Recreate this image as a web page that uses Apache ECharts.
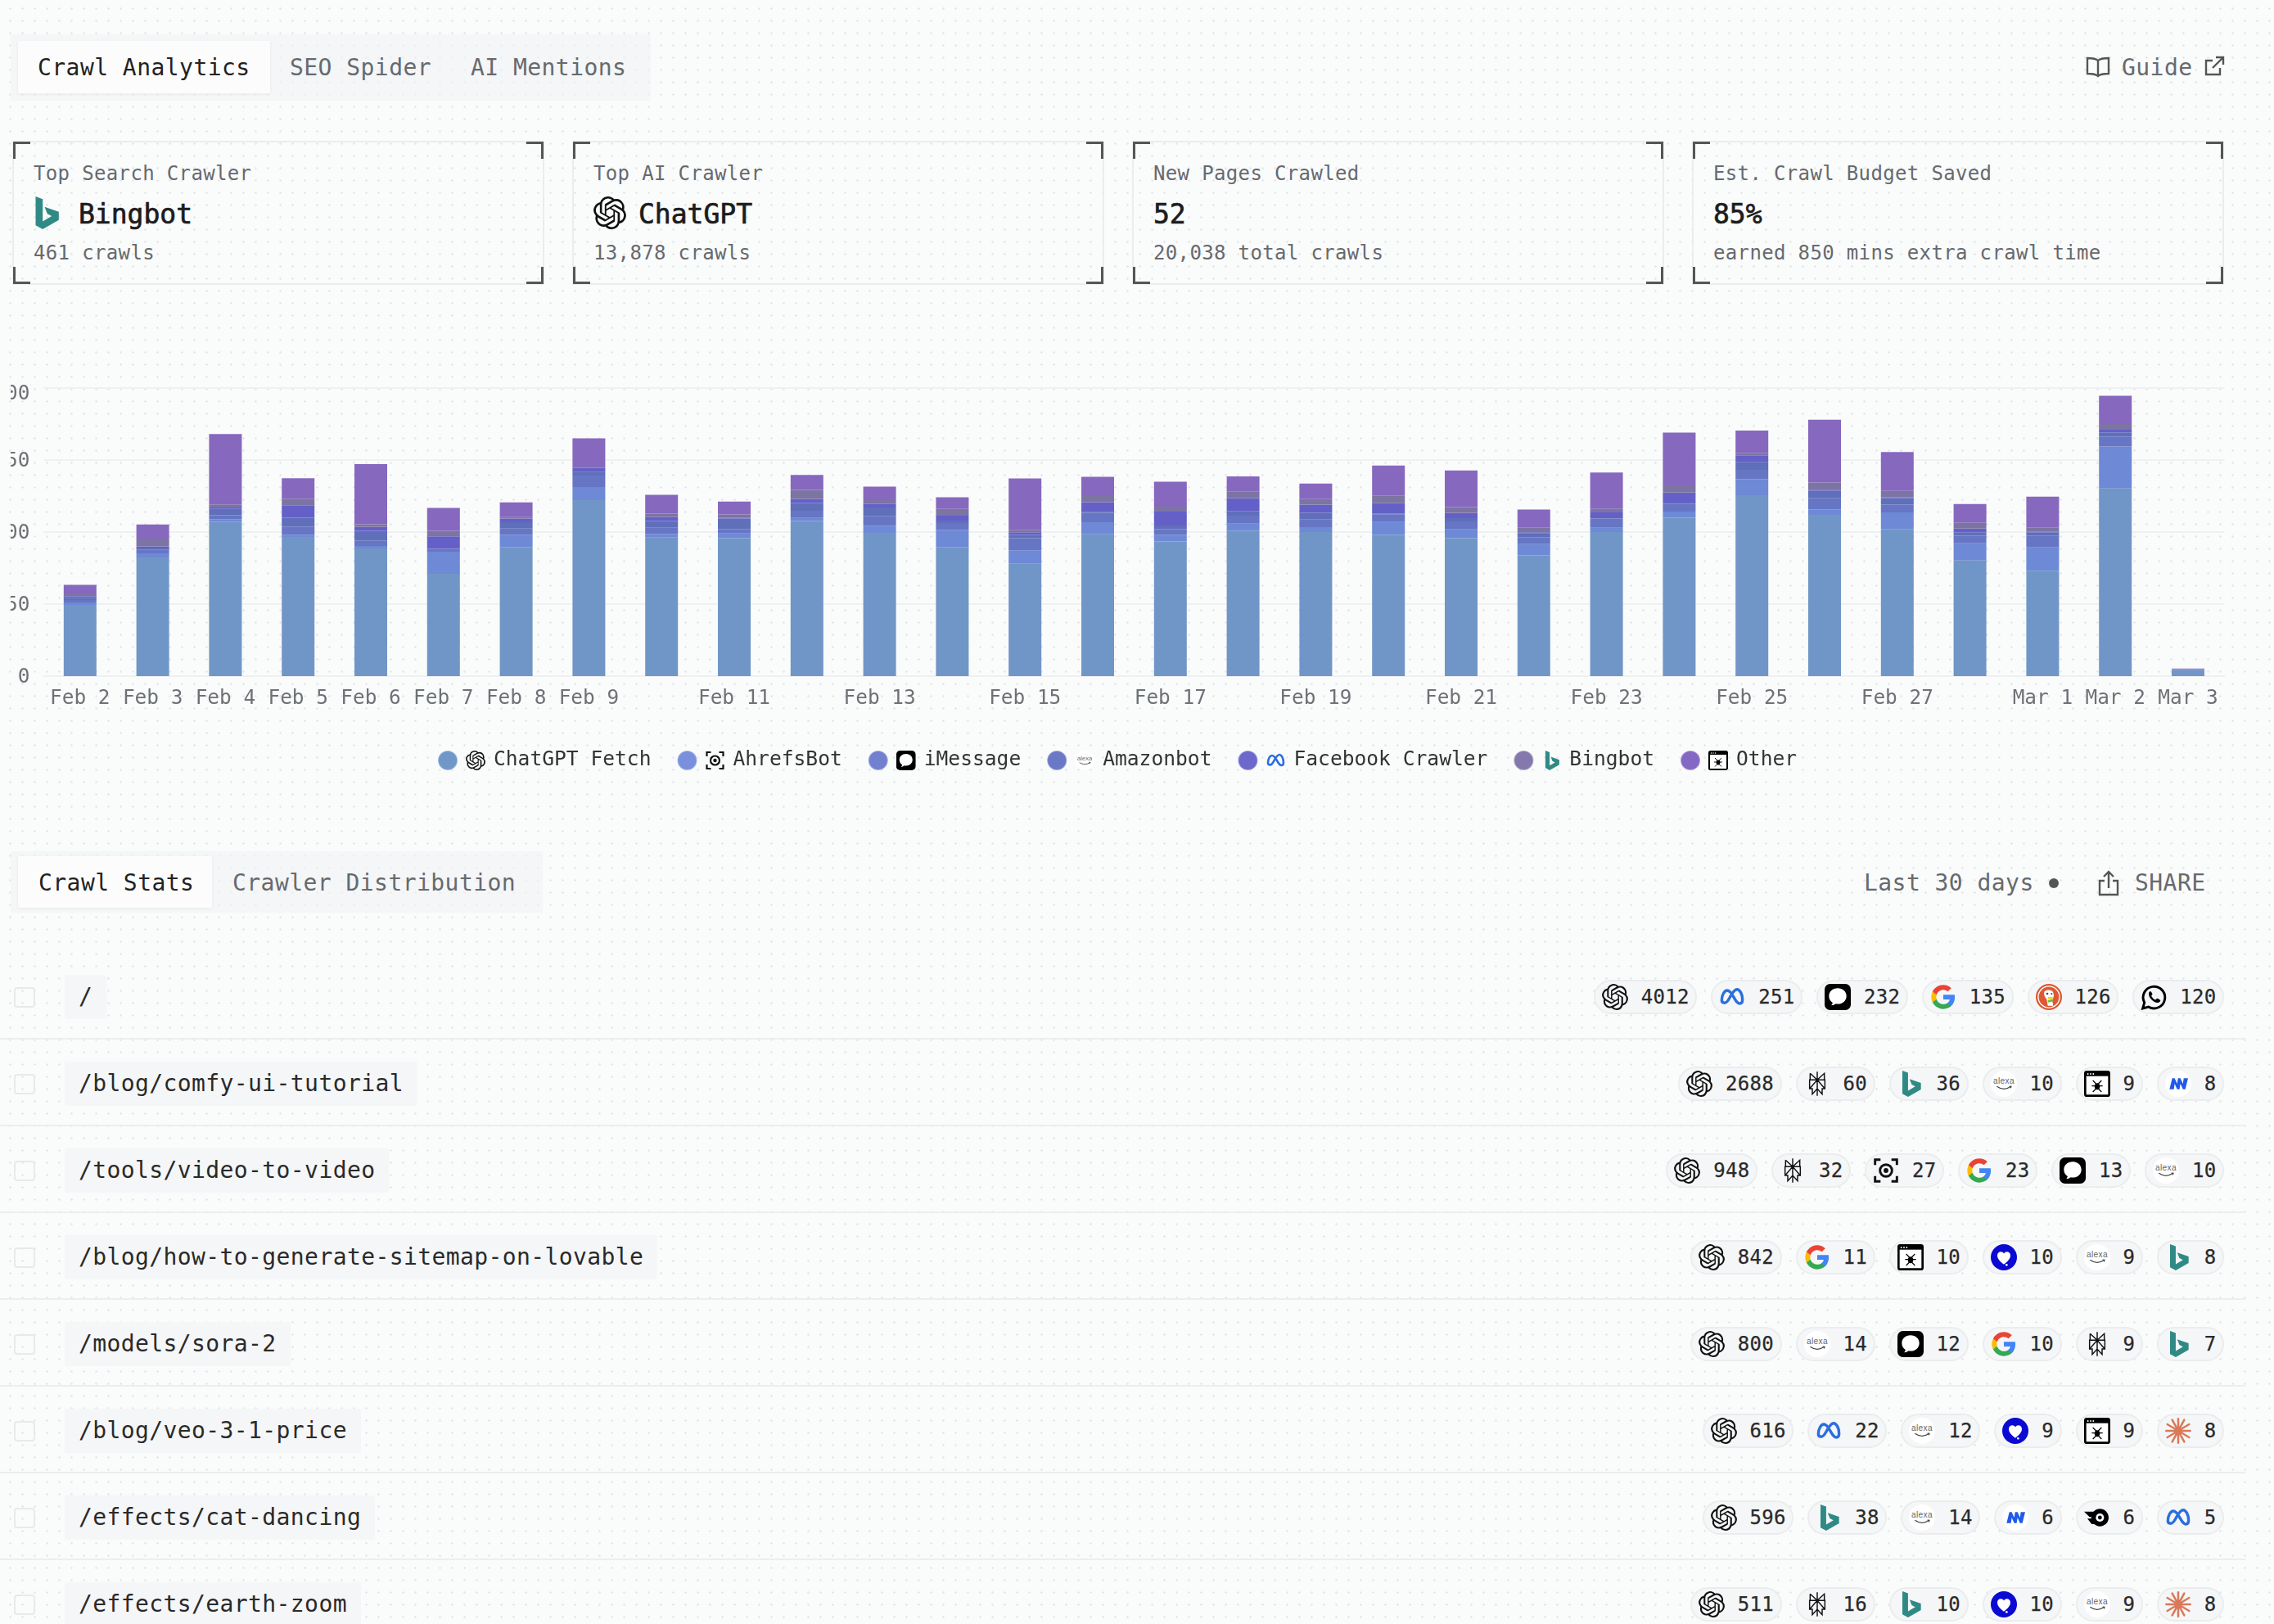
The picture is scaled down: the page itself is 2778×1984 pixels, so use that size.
<!DOCTYPE html>
<html lang="en">
<head>
  <meta charset="UTF-8">
  <title>Crawl Analytics</title>
  <script src="https://cdn.jsdelivr.net/npm/echarts@6/dist/echarts.min.js"></script>
  <style>
    * { box-sizing: border-box; }
    html, body { margin: 0; padding: 0; }
    body {
      position: relative;
      width: 2778px;
      height: 1984px;
      overflow: hidden;
      background-color: #fafbfb;
      background-image: radial-gradient(circle, #e5e7e9 1px, transparent 1.5px);
      background-size: 15px 15px;
      background-position: 5px 3px;
      font-family: "DejaVu Sans Mono", monospace;
      color: #222;
    }
    .abs { position: absolute; white-space: pre; line-height: 1; }
    .tabs { position: absolute; background: rgba(240, 242, 244, .62); }
    .tab-on { position: absolute; background: #fcfcfd; box-shadow: 0 1px 4px rgba(0, 0, 0, .06); border-radius: 2px; }
    .tab { font-size: 28px; letter-spacing: .45px; color: #666a6e; }
    .tab.on { color: #222; }
    .card { position: absolute; top: 172px; width: 650px; height: 176px; border: 2px solid #ebecee; }
    .card i { position: absolute; width: 21px; height: 21px; border: 0 solid #555; }
    .card .tl { left: -1px; top: -1px; border-width: 3px 0 0 3px; }
    .card .tr { right: -1px; top: -1px; border-width: 3px 3px 0 0; }
    .card .bl { left: -1px; bottom: -1px; border-width: 0 0 3px 3px; }
    .card .br { right: -1px; bottom: -1px; border-width: 0 3px 3px 0; }
    .card .lab, .card .sub { position: absolute; left: 24px; font-size: 24px; letter-spacing: .35px; color: #666a6e; white-space: pre; line-height: 1; }
    .card .lab { top: 26px; }
    .card .sub { top: 123px; }
    .card .val { position: absolute; top: 71px; font-size: 33px; -webkit-text-stroke: .7px #1c1c1c; color: #1c1c1c; line-height: 1; }
    .card svg { position: absolute; top: 66px; }
    #main { position: absolute; left: 13px; top: 440px; width: 2740px; height: 540px; }
    .row { position: absolute; left: 0; width: 2743px; height: 106px; border-bottom: 2px solid #ecedee; }
    .check { position: absolute; left: 17px; top: 42px; width: 26px; height: 25px; border: 2px solid #e8e9eb; border-radius: 4px; }
    .path { position: absolute; left: 79px; top: 27px; height: 54px; line-height: 54px; padding: 0 17px; font-size: 28px; letter-spacing: .4px; background: #f5f6f7; border-radius: 2px; white-space: pre; color: #2a2a2a; }
    .pills { position: absolute; right: 26px; top: 33px; display: flex; gap: 17px; }
    .pill { display: flex; align-items: center; height: 42px; padding: 0 7.5px 0 8px; border: 2px solid #ebecee; border-radius: 21px; background: #f5f6f7; font-size: 24px; letter-spacing: .3px; -webkit-text-stroke: .25px #2a2a2a; color: #2a2a2a; }
    .pill svg { margin-right: 16px; }
  </style>
</head>
<body>
<div class="tabs" style="left:13px;top:42px;width:782px;height:81px"></div>
<div class="tab-on" style="left:22px;top:50px;width:308px;height:64px"></div>
<div class="abs tab on" style="left:46px;top:69px">Crawl Analytics</div>
<div class="abs tab" style="left:354px;top:69px">SEO Spider</div>
<div class="abs tab" style="left:575px;top:69px">AI Mentions</div>

<svg class="abs" style="left:2548px;top:68px" width="30" height="28" viewBox="0 0 30 28" fill="none" stroke="#555" stroke-width="2.4"><path d="M15 6C12 3 7 3 2 3v19c5 0 10 0 13 3 3-3 8-3 13-3V3c-5 0-10 0-13 3zM15 6v19"/></svg>
<div class="abs tab" style="left:2592px;top:69px">Guide</div>
<svg class="abs" style="left:2692px;top:68px" width="26" height="26" viewBox="0 0 26 26" fill="none" stroke="#555" stroke-width="2.4"><path d="M20 15v8H3V6h8M15 2h9v9M24 2L11 15"/></svg>

<div id="cards"></div>
<div id="main"></div>

<div class="tabs" style="left:13px;top:1040px;width:650px;height:75px"></div>
<div class="tab-on" style="left:22px;top:1046px;width:237px;height:63px"></div>
<div class="abs tab on" style="left:47px;top:1065px">Crawl Stats</div>
<div class="abs tab" style="left:284px;top:1065px">Crawler Distribution</div>
<div class="abs tab" style="left:2277px;top:1065px">Last 30 days</div>
<div class="abs" style="left:2503px;top:1073px;width:12px;height:12px;border-radius:6px;background:#555"></div>
<svg class="abs" style="left:2562px;top:1063px" width="28" height="32" viewBox="0 0 28 32" fill="none" stroke="#555" stroke-width="2.4"><path d="M9 13H3v17h22V13h-6M14 22V2M8 8l6-6 6 6"/></svg>
<div class="abs tab" style="left:2608px;top:1065px">SHARE</div>

<div id="rows"></div>

<script>
  var monoFont = '"DejaVu Sans Mono", monospace';

  var days = ['Feb 2', 'Feb 3', 'Feb 4', 'Feb 5', 'Feb 6', 'Feb 7', 'Feb 8', 'Feb 9', 'Feb 10', 'Feb 11',
    'Feb 12', 'Feb 13', 'Feb 14', 'Feb 15', 'Feb 16', 'Feb 17', 'Feb 18', 'Feb 19', 'Feb 20', 'Feb 21',
    'Feb 22', 'Feb 23', 'Feb 24', 'Feb 25', 'Feb 26', 'Feb 27', 'Feb 28', 'Mar 1', 'Mar 2', 'Mar 3'];
  var shownDays = ['Feb 2', 'Feb 3', 'Feb 4', 'Feb 5', 'Feb 6', 'Feb 7', 'Feb 8', 'Feb 9', 'Feb 11', 'Feb 13',
    'Feb 15', 'Feb 17', 'Feb 19', 'Feb 21', 'Feb 23', 'Feb 25', 'Feb 27', 'Mar 1', 'Mar 2', 'Mar 3'];

  var chatgptFetch = [247, 412, 536, 483, 443, 355, 448, 611, 481, 479, 538, 497, 448, 390, 492, 467, 505, 500, 490, 479, 419, 500, 550, 628, 560, 511, 401, 366, 651, 20];
  var ahrefsBot = [9, 14, 9, 8, 9, 77, 43, 45, 12, 16, 11, 25, 60, 47, 42, 24, 24, 17, 45, 30, 39, 15, 21, 55, 18, 57, 60, 81, 146, 2];
  var iMessage = [8, 12, 13, 28, 19, 9, 21, 40, 22, 16, 25, 33, 23, 42, 32, 19, 28, 26, 27, 28, 24, 32, 28, 33, 39, 27, 26, 41, 35, 1];
  var amazonbot = [8, 5, 22, 31, 33, 1, 22, 12, 23, 36, 27, 30, 9, 11, 4, 13, 16, 24, 2, 11, 13, 1, 3, 26, 26, 23, 12, 11, 14, 0];
  var facebookCrawler = [6, 7, 5, 43, 14, 43, 13, 14, 14, 2, 14, 12, 17, 9, 34, 48, 45, 28, 36, 19, 4, 20, 35, 24, 4, 2, 13, 2, 9, 1];
  var bingbot = [9, 27, 11, 23, 9, 19, 5, 5, 12, 12, 31, 14, 23, 9, 24, 17, 22, 19, 27, 20, 16, 12, 22, 9, 25, 23, 20, 15, 23, 0];
  var other = [30, 49, 244, 71, 209, 80, 51, 98, 65, 45, 52, 47, 41, 178, 64, 87, 53, 54, 104, 127, 63, 127, 186, 77, 218, 135, 65, 107, 95, 2];

  var seriesNames = ['ChatGPT Fetch', 'AhrefsBot', 'iMessage', 'Amazonbot', 'Facebook Crawler', 'Bingbot', 'Other'];
  var seriesValues = [chatgptFetch, ahrefsBot, iMessage, amazonbot, facebookCrawler, bingbot, other];
  var seriesColors = ['#7096c7', '#6e89d5', '#6676c4', '#5f6fba', '#6460c8', '#7c74a2', '#8668bf'];
  var legendColors = ['#7097c8', '#7a90dc', '#7280d0', '#6a78c6', '#6c68cc', '#8479ac', '#8468c4'];
  var seriesIcons = ['openai', 'ahrefs', 'imessage', 'alexa', 'meta', 'bing', 'spider'];

  var cardLabels = ['Top Search Crawler', 'Top AI Crawler', 'New Pages Crawled', 'Est. Crawl Budget Saved'];
  var cardValues = ['Bingbot', 'ChatGPT', '52', '85%'];
  var cardIcons = ['bing', 'openai', '', ''];
  var cardIconLeft = [19, 24, 0, 0];
  var cardSubs = ['461 crawls', '13,878 crawls', '20,038 total crawls', 'earned 850 mins extra crawl time'];

  var pagePaths = ['/', '/blog/comfy-ui-tutorial', '/tools/video-to-video', '/blog/how-to-generate-sitemap-on-lovable',
    '/models/sora-2', '/blog/veo-3-1-price', '/effects/cat-dancing', '/effects/earth-zoom'];
  var pageCrawlers = [
    ['openai', 'meta', 'imessage', 'google', 'duck', 'whatsapp'],
    ['openai', 'perplexity', 'bing', 'alexa', 'spider', 'mistral'],
    ['openai', 'perplexity', 'ahrefs', 'google', 'imessage', 'alexa'],
    ['openai', 'google', 'spider', 'heart', 'alexa', 'bing'],
    ['openai', 'alexa', 'imessage', 'google', 'perplexity', 'bing'],
    ['openai', 'meta', 'alexa', 'heart', 'spider', 'claude'],
    ['openai', 'bing', 'alexa', 'mistral', 'flame', 'meta'],
    ['openai', 'perplexity', 'bing', 'heart', 'alexa', 'claude']
  ];
  var pageCounts = [
    [4012, 251, 232, 135, 126, 120],
    [2688, 60, 36, 10, 9, 8],
    [948, 32, 27, 23, 13, 10],
    [842, 11, 10, 10, 9, 8],
    [800, 14, 12, 10, 9, 7],
    [616, 22, 12, 9, 9, 8],
    [596, 38, 14, 6, 6, 5],
    [511, 16, 10, 10, 9, 8]
  ];

  // crawler logos, all on a 24 unit box
  var iconParts = {
    openai: '<path fill="#111" d="M22.2819 9.8211a5.9847 5.9847 0 0 0-.5157-4.9108 6.0462 6.0462 0 0 0-6.5098-2.9A6.0651 6.0651 0 0 0 4.9807 4.1818a5.9847 5.9847 0 0 0-3.9977 2.9 6.0462 6.0462 0 0 0 .7427 7.0966 5.98 5.98 0 0 0 .511 4.9107 6.051 6.051 0 0 0 6.5146 2.9001A5.9847 5.9847 0 0 0 13.2599 24a6.0557 6.0557 0 0 0 5.7718-4.2058 5.9894 5.9894 0 0 0 3.9977-2.9001 6.0557 6.0557 0 0 0-.7475-7.0729zm-9.022 12.6081a4.4755 4.4755 0 0 1-2.8764-1.0408l.1419-.0804 4.7783-2.7582a.7948.7948 0 0 0 .3927-.6813v-6.7369l2.02 1.1686a.071.071 0 0 1 .038.052v5.5826a4.504 4.504 0 0 1-4.4945 4.4944zm-9.6607-4.1254a4.4708 4.4708 0 0 1-.5346-3.0137l.142.0852 4.783 2.7582a.7712.7712 0 0 0 .7806 0l5.8428-3.3685v2.3324a.0804.0804 0 0 1-.0332.0615L9.74 19.9502a4.4992 4.4992 0 0 1-6.1408-1.6464zM2.3408 7.8956a4.485 4.485 0 0 1 2.3655-1.9728V11.6a.7664.7664 0 0 0 .3879.6765l5.8144 3.3543-2.0201 1.1685a.0757.0757 0 0 1-.071 0l-4.8303-2.7865A4.504 4.504 0 0 1 2.3408 7.872zm16.5963 3.8558L13.1038 8.364 15.1192 7.2a.0757.0757 0 0 1 .071 0l4.8303 2.7913a4.4944 4.4944 0 0 1-.6765 8.1042v-5.6772a.79.79 0 0 0-.407-.667zm2.0107-3.0231l-.142-.0852-4.7735-2.7818a.7759.7759 0 0 0-.7854 0L9.409 9.2297V6.8974a.0662.0662 0 0 1 .0284-.0615l4.8303-2.7866a4.4992 4.4992 0 0 1 6.6802 4.66zM8.3065 12.863l-2.02-1.1638a.0804.0804 0 0 1-.038-.0567V6.0742a4.4992 4.4992 0 0 1 7.3757-3.4537l-.142.0805L8.704 5.459a.7948.7948 0 0 0-.3927.6813zm1.0976-2.3654l2.602-1.4998 2.6069 1.4998v2.9994l-2.5974 1.4997-2.6067-1.4997Z"/>',
    bing: '<path fill="#2f8a85" d="M4.5 0l5.2 1.900v16.400l6.600-3.900-3.200-1.600-2-5.200 10.400 3.700v5.900L9.700 24l-5.200-2.900z"/>',
    meta: '<path fill="none" stroke="#2a6fe0" stroke-width="2.600" d="M2.500 15c0-5 2.600-9 5-9 2.800 0 4.800 4 6.500 7 1.800 3.200 3 5 5 5 1.800 0 2.500-1.600 2.500-3.600 0-5-2.500-9.400-5-9.400-2.500 0-4.300 3.400-6 6.400-1.700 3-3 6-5.300 6C3.400 17.400 2.500 16.600 2.500 15z"/>',
    imessage: '<rect width="24" height="24" rx="5" fill="#000"/><path fill="#fff" d="M12 4c-4.500 0-8 3-8 7.200 0 2.600 1.300 4.700 3.400 6-.2 1-.7 1.900-1.400 2.500 1.700 0 3.100-.6 4.200-1.500.6.100 1.200.2 1.800.2 4.500 0 8-3 8-7.200S16.500 4 12 4z"/>',
    google: '<path fill="#4285F4" d="M22.56 12.25c0-.78-.07-1.530-.2-2.250H12v4.260h5.920c-.26 1.370-1.040 2.530-2.210 3.310v2.770h3.570c2.080-1.920 3.280-4.740 3.280-8.090z"/><path fill="#34A853" d="M12 23c2.970 0 5.460-.98 7.280-2.660l-3.570-2.770c-.98.66-2.230 1.060-3.710 1.060-2.860 0-5.290-1.930-6.160-4.530H2.180v2.840C3.990 20.530 7.700 23 12 23z"/><path fill="#FBBC05" d="M5.840 14.090c-.22-.66-.35-1.360-.35-2.090s.13-1.430.35-2.090V7.070H2.180C1.430 8.550 1 10.220 1 12s.43 3.450 1.180 4.930l3.660-2.840z"/><path fill="#EA4335" d="M12 5.380c1.620 0 3.060.56 4.210 1.640l3.150-3.150C17.450 2.090 14.970 1 12 1 7.700 1 3.990 3.470 2.180 7.070l3.660 2.840c.87-2.600 3.300-4.530 6.160-4.530z"/>',
    duck: '<circle cx="12" cy="12" r="12" fill="#de5833"/><circle cx="12" cy="12" r="9.800" fill="none" stroke="#fff" stroke-width="1"/><path fill="#fff" d="M8 7c2-2 7-2 8 1 1 3 0 5-1 7l1 5h-5l-1-6C8 12 7 9 8 7z"/><path fill="#67bd47" d="M11 15l4-1 1 2-5 1z"/><path fill="#fdd20a" d="M11 12h5l-1 2h-4z"/><circle cx="10.500" cy="9" r="1" fill="#2d4f8e"/><circle cx="14.500" cy="9" r=".8" fill="#2d4f8e"/>',
    whatsapp: '<path fill="none" stroke="#000" stroke-width="2.200" d="M2 22.500l1.500-5.400A10 10 0 1 1 7.200 21z"/><path fill="#000" d="M9 6.800c-.6 0-1.500.9-1.500 2.400 0 3.500 4.300 8 8 8 1.600 0 2.700-1 2.700-2 0-.6-2.500-1.900-3-1.900-.5 0-1 1.200-1.500 1.200-1.200 0-3.800-2.600-3.800-3.600 0-.6 1-1 1-1.500 0-.4-1.300-2.600-1.900-2.600z"/>',
    perplexity: '<path fill="none" stroke="#111" stroke-width="1.100" d="M12 1v22M5.500 2.500L12 8.500l6.500-6v6M5.500 2.500v6M5 8.500h14v8h-2.500v5L12 16.500l-4.500 5v-5H5zM5 16.500L12 8.500l7 8"/>',
    ahrefs: '<g fill="none" stroke="#111" stroke-width="2.200"><path d="M7 2H2v5M17 2h5v5M7 22H2v-5M17 22h5v-5"/><circle cx="12" cy="12" r="5.500"/></g><circle cx="12" cy="12" r="2.200" fill="#111"/>',
    alexa: '<circle cx="12" cy="12" r="12" fill="#fff"/><text x="12" y="12" font-size="7.600" text-anchor="middle" fill="#666" font-family="Liberation Sans">alexa</text><path fill="none" stroke="#444" stroke-width=".9" d="M5.500 14.500c4 2.800 9 2.800 13 0M17 14.300l1.700.1-.4 1.600"/>',
    spider: '<rect x="1" y="1" width="22" height="22" rx="1.500" fill="#fff" stroke="#000" stroke-width="2"/><path d="M1 1h22v4H1z" fill="#000"/><g fill="#fff"><circle cx="3.500" cy="3" r=".7"/><circle cx="6" cy="3" r=".7"/><circle cx="8.500" cy="3" r=".7"/></g><ellipse cx="12" cy="14.500" rx="2.400" ry="3" fill="#000"/><path fill="none" stroke="#000" stroke-width=".9" d="M8 9l3 3M16 9l-3 3M7 14h10M8 19.500l3-3M16 19.500l-3-3"/>',
    mistral: '<circle cx="12" cy="12" r="12" fill="#fff"/><path fill="#1f5ae8" d="M4 17l2.500-10h2.200l2.300 5 .8-5h2.200l2.300 5 .7-5H21l-2.500 10h-2.200l-2.300-5-.8 5h-2.200L8.700 12 8 17z"/>',
    heart: '<circle cx="12" cy="12" r="12" fill="#0a0ad2"/><path fill="#fff" d="M12 18.500C8 15.500 6 13 6 10.300 6 8.300 7.500 7 9.200 7c1.200 0 2.200.6 2.800 1.700C12.600 7.600 13.600 7 14.800 7 16.500 7 18 8.300 18 10.300c0 2.700-2 5.200-6 8.200z"/><circle cx="14.500" cy="19" r="1" fill="#fff"/>',
    claude: '<path fill="none" stroke="#d9795a" stroke-width="1.900" stroke-linecap="round" d="M12 1l0 22M2 6l20 12M2 18L22 6M6.500 2L17.500 22M17.500 2L6.500 22M1 12h22"/>',
    flame: '<circle cx="14.500" cy="12" r="8" fill="#000"/><circle cx="14.500" cy="12" r="3.800" fill="#fff"/><circle cx="14.500" cy="12" r="1.800" fill="#000"/><path fill="#000" d="M0 6.500h9l2 5H5zM3 13h7l2 5H7z"/>'
  };

  function iconSvg(name, size, style) {
    return '<svg xmlns="http://www.w3.org/2000/svg" width="' + size + '" height="' + size + '" viewBox="0 0 24 24"'
      + (style ? ' style="' + style + '"' : '') + '>' + iconParts[name] + '</svg>';
  }

  function iconUrl(name) {
    return 'data:image/svg+xml;charset=utf-8,' + encodeURIComponent(iconSvg(name, 96));
  }

  /*
  * cards and table rows, plain dom
  * */
  var cardsHtml = '';
  cardLabels.forEach(function (label, i) {
    var withIcon = cardIcons[i] !== '';
    cardsHtml += '<div class="card" style="left:' + (15 + i * 684) + 'px">'
      + '<i class="tl"></i><i class="tr"></i><i class="bl"></i><i class="br"></i>'
      + '<div class="lab">' + label + '</div>'
      + (withIcon ? iconSvg(cardIcons[i], 40, 'left:' + cardIconLeft[i] + 'px') : '')
      + '<div class="val" style="left:' + (withIcon ? 79 : 24) + 'px">' + cardValues[i] + '</div>'
      + '<div class="sub">' + cardSubs[i] + '</div></div>';
  });
  document.getElementById('cards').innerHTML = cardsHtml;

  var rowsHtml = '';
  pagePaths.forEach(function (path, i) {
    var pills = '';
    pageCrawlers[i].forEach(function (crawler, j) {
      pills += '<div class="pill">' + iconSvg(crawler, 32) + pageCounts[i][j] + '</div>';
    });
    rowsHtml += '<div class="row" style="top:' + (1164 + i * 106) + 'px"><div class="check"></div>'
      + '<div class="path">' + path + '</div><div class="pills">' + pills + '</div></div>';
  });
  document.getElementById('rows').innerHTML = rowsHtml;

  /*
  * stacked bars
  * */
  var legendRich = {
    gap: {width: 5, height: 24},
    txt: {fontFamily: monoFont, fontSize: 24.6, color: '#333', padding: [0, 0, 0, 10]}
  };
  seriesNames.forEach(function (name, i) {
    legendRich['ic' + i] = {width: 24, height: 24, backgroundColor: {image: iconUrl(seriesIcons[i])}};
  });

  var myChart = echarts.init(document.getElementById('main'));
  myChart.setOption({
    animation: false,
    grid: {left: 40.4, top: 34, width: 2664, height: 352, outerBoundsMode: 'none'},
    legend: {
      left: 516,
      top: 471,
      icon: 'circle',
      itemWidth: 24,
      itemHeight: 24,
      itemGap: 31,
      selectedMode: false,
      data: seriesNames.map(function (name, i) {
        return {
          name: name,
          itemStyle: {color: legendColors[i], borderColor: 'rgba(255, 255, 255, 0.35)', borderWidth: 2}
        };
      }),
      formatter: function (name) {
        var k = seriesNames.indexOf(name);
        return '{gap|}{ic' + k + '|}{txt|' + name + '}';
      },
      textStyle: {rich: legendRich, fontFamily: monoFont, fontSize: 24.6}
    },
    xAxis: {
      type: 'category',
      data: days,
      axisLine: {show: true, lineStyle: {color: '#eff0f1', width: 2}},
      axisTick: {show: false},
      axisLabel: {
        color: '#6e7276',
        fontFamily: monoFont,
        fontSize: 24.4,
        margin: 16,
        hideOverlap: false,
        interval: function (index, value) {
          return shownDays.indexOf(value) >= 0;
        }
      }
    },
    yAxis: {
      type: 'value',
      min: 0,
      max: 1000,
      interval: 250,
      axisLine: {show: false},
      axisTick: {show: false},
      axisLabel: {
        color: '#6e7276',
        fontFamily: monoFont,
        fontSize: 24.4,
        margin: 17,
        padding: [3, 0, 0, 0],
        // the top label sits a little below its gridline
        formatter: function (value) {
          return value === 1000 ? '{top|' + value + '}' : '' + value;
        },
        rich: {top: {fontFamily: monoFont, fontSize: 24.4, color: '#6e7276', padding: [13, 0, 0, 0]}}
      },
      splitLine: {lineStyle: {color: '#eff0f1', width: 2}}
    },
    series: seriesNames.map(function (name, i) {
      return {
        name: name,
        type: 'bar',
        stack: 'crawls',
        barWidth: 40,
        data: seriesValues[i],
        itemStyle: {color: seriesColors[i], borderWidth: 0}
      };
    })
  });
</script>
</body>
</html>
